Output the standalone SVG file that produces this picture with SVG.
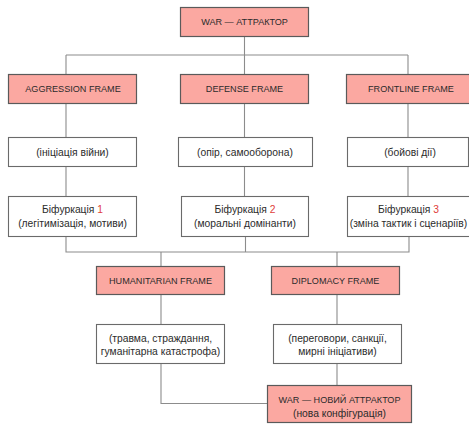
<svg xmlns="http://www.w3.org/2000/svg" width="469" height="424" viewBox="0 0 469 424">
<style>
.bg{fill:#ffffff}
.pink{fill:#fba8a1;stroke:#5a5a5a;stroke-width:1.2}
.white{fill:#ffffff;stroke:#6a6a6a;stroke-width:1.1}
.cap{font-family:"Liberation Sans","Noto Sans",Arial,sans-serif;font-size:9.1px;fill:#2b2b2b;text-anchor:middle}
.txt{font-family:"Liberation Sans","Noto Sans",Arial,sans-serif;font-size:10.3px;fill:#2b2b2b;text-anchor:middle}
.red{fill:#e0403a}
.conn{fill:none;stroke:#8c8c8c;stroke-width:1.1}
</style>
<rect class="bg" x="0" y="0" width="469" height="424"/>
<g id="connectors">
<path class="conn" d="M244.5 36 V55 M66 55 H408 M66 55 V74 M244.5 55 V74 M408 55 V74"/>
<path class="conn" d="M66 103 V137 M244.5 103 V137 M408 103 V137"/>
<path class="conn" d="M66 166 V196 M244.5 166 V196 M408 166 V196"/>
<path class="conn" d="M66 237 V252 H409 V237 M245.5 237 V252 M161 252 V266 M337 252 V266"/>
<path class="conn" d="M161 294 V324 M337 294 V324"/>
<path class="conn" d="M161 363 V403.5 H267 M337 363 V385"/>
</g>
<g id="war-attractor">
<rect class="pink" x="180.5" y="7.5" width="128" height="29"/>
<text class="cap" x="244.5" y="25">WAR — АТТРАКТОР</text>
</g>
<g id="aggression-frame">
<rect class="pink" x="8.5" y="74.5" width="128" height="29"/>
<text class="cap" x="73" y="92">AGGRESSION FRAME</text>
</g>
<g id="defense-frame">
<rect class="pink" x="180.5" y="74.5" width="128" height="29"/>
<text class="cap" x="244.5" y="92">DEFENSE FRAME</text>
</g>
<g id="frontline-frame">
<rect class="pink" x="346.5" y="74.5" width="128" height="29"/>
<text class="cap" x="411" y="92">FRONTLINE FRAME</text>
</g>
<g id="initiation">
<rect class="white" x="8.5" y="137.5" width="128" height="29"/>
<text class="txt" x="72.5" y="155.5">(ініціація війни)</text>
</g>
<g id="resistance">
<rect class="white" x="178.5" y="137.5" width="134" height="29"/>
<text class="txt" x="245" y="155.5">(опір, самооборона)</text>
</g>
<g id="combat">
<rect class="white" x="347.5" y="137.5" width="121" height="29"/>
<text class="txt" x="410" y="155.5">(бойові дії)</text>
</g>
<g id="bifurcation-1">
<rect class="white" x="8.5" y="196.5" width="128" height="40"/>
<text class="txt" x="72.5" y="212.5">Біфуркація <tspan class="red">1</tspan></text>
<text class="txt" x="72.5" y="226.5">(легітимізація, мотиви)</text>
</g>
<g id="bifurcation-2">
<rect class="white" x="181.5" y="196.5" width="127" height="40"/>
<text class="txt" x="245" y="212.5">Біфуркація <tspan class="red">2</tspan></text>
<text class="txt" x="245" y="226.5">(моральні домінанти)</text>
</g>
<g id="bifurcation-3">
<rect class="white" x="347.5" y="196.5" width="125" height="40"/>
<text class="txt" x="408.5" y="212.5">Біфуркація <tspan class="red">3</tspan></text>
<text class="txt" x="408.5" y="226.5">(зміна тактик і сценаріїв)</text>
</g>
<g id="humanitarian-frame">
<rect class="pink" x="96.5" y="266.5" width="128" height="28"/>
<text class="cap" x="160.5" y="283.5">HUMANITARIAN FRAME</text>
</g>
<g id="diplomacy-frame">
<rect class="pink" x="271.5" y="266.5" width="128" height="28"/>
<text class="cap" x="335.5" y="283.5">DIPLOMACY FRAME</text>
</g>
<g id="trauma">
<rect class="white" x="96.5" y="324.5" width="128" height="39"/>
<text class="txt" x="160.5" y="341.5">(травма, страждання,</text>
<text class="txt" x="160.5" y="354.5">гуманітарна катастрофа)</text>
</g>
<g id="negotiations">
<rect class="white" x="273.5" y="324.5" width="128" height="39"/>
<text class="txt" x="337.5" y="341.5">(переговори, санкції,</text>
<text class="txt" x="337.5" y="354.5">мирні ініціативи)</text>
</g>
<g id="war-new-attractor">
<rect class="pink" x="267.5" y="385.5" width="144" height="37"/>
<text class="cap" x="339.5" y="403">WAR — НОВИЙ АТТРАКТОР</text>
<text class="txt" x="339.5" y="416.5">(нова конфігурація)</text>
</g>
</svg>
